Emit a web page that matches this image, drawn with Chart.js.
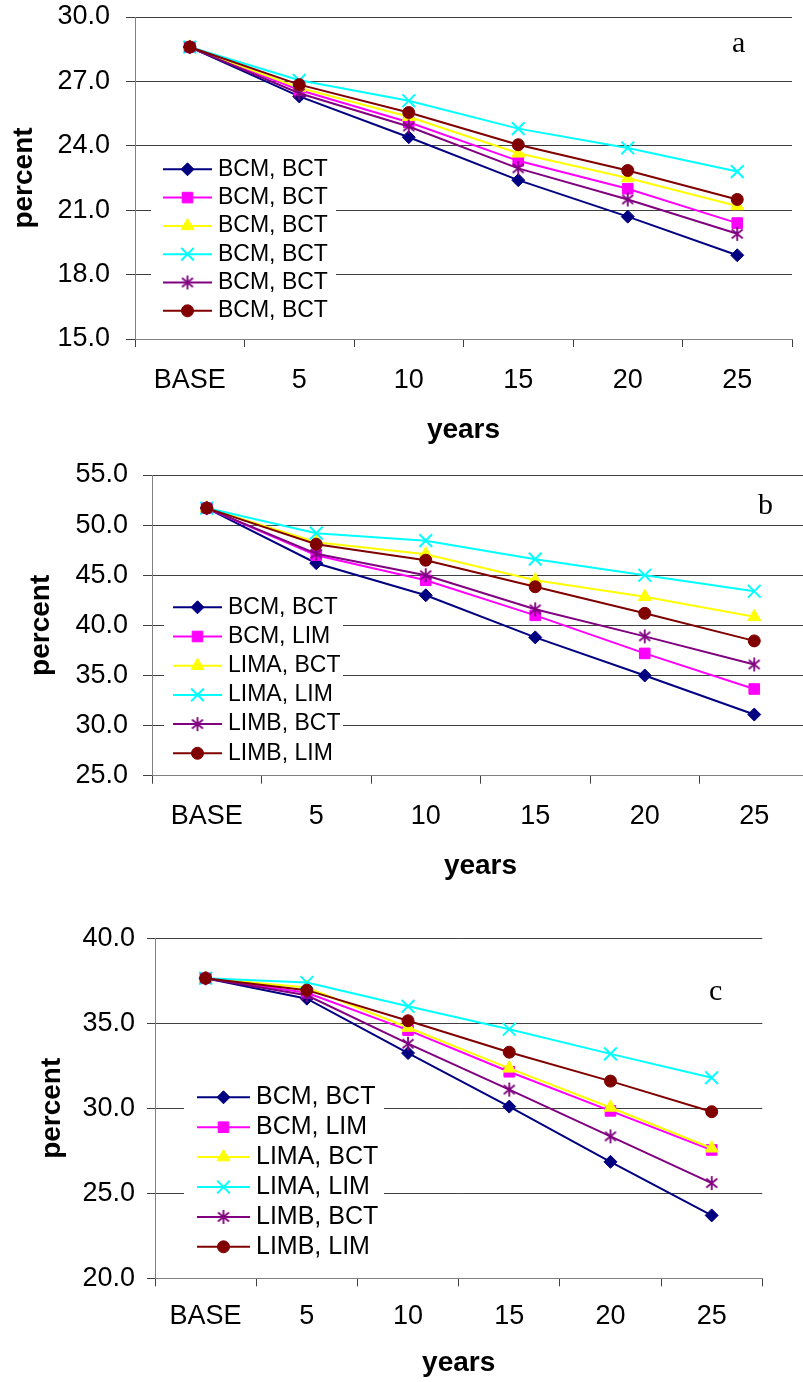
<!DOCTYPE html>
<html><head><meta charset="utf-8">
<script src="https://cdn.jsdelivr.net/npm/chart.js@4.4.1/dist/chart.umd.min.js"></script>
<style>
html,body{margin:0;padding:0;background:#fff;overflow:hidden;}
#wrap{position:relative;width:803px;height:1382px;overflow:hidden;background:#fff;}
canvas{position:absolute;left:0;}
.pl{position:absolute;font-family:"Liberation Serif","Times New Roman",serif;font-size:30px;line-height:30px;color:#000;}
</style></head><body>
<div id="wrap">
<canvas id="ca" width="803" height="450" style="top:0px"></canvas>
<canvas id="cb" width="820" height="450" style="top:450px"></canvas>
<canvas id="cc" width="803" height="482" style="top:900px"></canvas>
<div class="pl" style="left:732px;top:27px">a</div>
<div class="pl" style="left:758px;top:489px">b</div>
<div class="pl" style="left:709px;top:975px">c</div>
</div>
<script>
// ---------- data ----------
const categories = ['BASE', '5', '10', '15', '20', '25'];

const seriesNamesA = ['BCM, BCT', 'BCM, BCT', 'BCM, BCT', 'BCM, BCT', 'BCM, BCT', 'BCM, BCT'];
const seriesNamesBC = ['BCM, BCT', 'BCM, LIM', 'LIMA, BCT', 'LIMA, LIM', 'LIMB, BCT', 'LIMB, LIM'];

// panel a
const a_BCM_BCT   = [28.6, 26.3, 24.4, 22.4, 20.7, 18.9];
const a_BCM_LIM   = [28.6, 26.6, 25.1, 23.3, 22.0, 20.4];
const a_LIMA_BCT  = [28.6, 26.7, 25.35, 23.65, 22.5, 21.2];
const a_LIMA_LIM  = [28.6, 27.05, 26.1, 24.8, 23.9, 22.8];
const a_LIMB_BCT  = [28.6, 26.45, 24.9, 22.95, 21.5, 19.9];
const a_LIMB_LIM  = [28.6, 26.85, 25.55, 24.05, 22.85, 21.5];

// panel b
const b_BCM_BCT   = [51.7, 46.2, 43.0, 38.8, 35.0, 31.1];
const b_BCM_LIM   = [51.7, 47.0, 44.5, 41.0, 37.2, 33.65];
const b_LIMA_BCT  = [51.7, 48.3, 47.1, 44.5, 42.85, 40.85];
const b_LIMA_LIM  = [51.7, 49.2, 48.45, 46.6, 45.0, 43.4];
const b_LIMB_BCT  = [51.7, 47.15, 45.0, 41.6, 38.9, 36.1];
const b_LIMB_LIM  = [51.7, 48.1, 46.5, 43.85, 41.2, 38.45];

// panel c
const c_BCM_BCT   = [37.65, 36.45, 33.25, 30.1, 26.85, 23.7];
const c_BCM_LIM   = [37.65, 36.8, 34.6, 32.15, 29.85, 27.55];
const c_LIMA_BCT  = [37.65, 37.1, 34.75, 32.35, 30.05, 27.65];
const c_LIMA_LIM  = [37.65, 37.4, 36.0, 34.65, 33.2, 31.8];
const c_LIMB_BCT  = [37.65, 36.65, 33.8, 31.1, 28.35, 25.6];
const c_LIMB_LIM  = [37.65, 36.95, 35.15, 33.3, 31.6, 29.8];

const yTicksA = [15, 18, 21, 24, 27, 30];
const yTicksB = [25, 30, 35, 40, 45, 50, 55];
const yTicksC = [20, 25, 30, 35, 40];

// ---------- styles ----------
// Excel-like asterisk marker (X plus vertical bar)
function makeAsterisk(color) {
  const c = document.createElement('canvas');
  c.width = 16; c.height = 16;
  const x = c.getContext('2d');
  x.strokeStyle = color; x.lineWidth = 1.8; x.lineCap = 'butt';
  x.beginPath();
  x.moveTo(8, 1); x.lineTo(8, 15);
  x.moveTo(2.5, 3.5); x.lineTo(13.5, 12.5);
  x.moveTo(13.5, 3.5); x.lineTo(2.5, 12.5);
  x.stroke();
  return c;
}

const seriesStyle = [
  {color: '#000080', pointStyle: 'rectRot',  r: 6.5, pbw: 1},
  {color: '#FF00FF', pointStyle: 'rect',     r: 7.5, pbw: 1},
  {color: '#FFFF00', pointStyle: 'triangle', r: 7.5, pbw: 1},
  {color: '#00FFFF', pointStyle: 'crossRot', r: 9,   pbw: 2},
  {color: '#800080', pointStyle: makeAsterisk('#800080'), r: 7, pbw: 1.8},
  {color: '#800000', pointStyle: 'circle',   r: 6,   pbw: 1}
];
const SANS = '"Liberation Sans", Arial, sans-serif';

function drawMarker(ctx, ds, x, y) {
  ctx.save();
  ctx.fillStyle = ds.pointBackgroundColor;
  ctx.strokeStyle = ds.pointBorderColor;
  ctx.lineWidth = ds.pointBorderWidth;
  const r = ds.pointRadius;
  const st = ds.pointStyle;
  if (typeof st === 'object' && st) {
    ctx.drawImage(st, x - st.width / 2, y - st.height / 2);
  } else if (Chart.helpers && Chart.helpers.drawPoint) {
    Chart.helpers.drawPoint(ctx, {pointStyle: st, radius: r, borderWidth: ds.pointBorderWidth, rotation: 0}, x, y);
  } else {
    ctx.beginPath();
    switch (st) {
      case 'rectRot': ctx.moveTo(x - r, y); ctx.lineTo(x, y - r); ctx.lineTo(x + r, y); ctx.lineTo(x, y + r); ctx.closePath(); ctx.fill(); ctx.stroke(); break;
      case 'rect': { const s = r * Math.SQRT1_2; ctx.rect(x - s, y - s, 2 * s, 2 * s); ctx.fill(); ctx.stroke(); break; }
      case 'triangle': for (let k = 0; k < 3; k++) { const a = k * 2 * Math.PI / 3; const px = x + Math.sin(a) * r, py = y - Math.cos(a) * r; k ? ctx.lineTo(px, py) : ctx.moveTo(px, py); } ctx.closePath(); ctx.fill(); ctx.stroke(); break;
      case 'circle': ctx.arc(x, y, r, 0, Math.PI * 2); ctx.fill(); ctx.stroke(); break;
      case 'crossRot': { const o = r * Math.SQRT1_2; ctx.moveTo(x - o, y - o); ctx.lineTo(x + o, y + o); ctx.moveTo(x + o, y - o); ctx.lineTo(x - o, y + o); ctx.stroke(); break; }
    }
  }
  ctx.restore();
}

const boxLegend = {
  id: 'boxLegend',
  afterDraw(chart, args, o) {
    const ctx = chart.ctx;
    ctx.save();
    ctx.fillStyle = '#fff';
    ctx.fillRect(o.bx, o.by, o.bw, o.bh);
    chart.data.datasets.forEach((ds, i) => {
      const y = o.rowY + i * o.rowStep;
      ctx.strokeStyle = ds.borderColor;
      ctx.lineWidth = ds.borderWidth;
      ctx.beginPath();
      ctx.moveTo(o.x1, y); ctx.lineTo(o.x2, y);
      ctx.stroke();
      drawMarker(ctx, ds, (o.x1 + o.x2) / 2, y);
      ctx.fillStyle = '#000';
      ctx.font = o.fontSize + 'px ' + SANS;
      ctx.textAlign = 'left';
      ctx.textBaseline = 'middle';
      ctx.fillText(ds.label, o.textX, y);
    });
    ctx.restore();
  }
};

function makeChart(id, names, series, yTicks, g) {
  const datasets = series.map((vals, i) => {
    const s = seriesStyle[i];
    return {
      label: names[i],
      data: vals,
      borderColor: s.color,
      backgroundColor: s.color,
      borderWidth: 2,
      pointStyle: s.pointStyle,
      pointRadius: s.r,
      pointBackgroundColor: s.color,
      pointBorderColor: s.color,
      pointBorderWidth: s.pbw,
      tension: 0,
      fill: false,
      order: series.length - i
    };
  });
  return new Chart(document.getElementById(id), {
    type: 'line',
    data: {labels: categories, datasets},
    plugins: [boxLegend],
    options: {
      responsive: false,
      animation: false,
      events: [],
      devicePixelRatio: 1,
      layout: {padding: {left: 0, top: g.top, right: g.right, bottom: 0}},
      plugins: {
        legend: {display: false},
        tooltip: {enabled: false},
        boxLegend: g.legend
      },
      scales: {
        x: {
          type: 'category',
          offset: true,
          afterFit: (sc) => { sc.height = g.xHeight; sc.paddingLeft = 0; sc.paddingRight = 0; },
          grid: {display: true, drawOnChartArea: false, drawTicks: true, tickLength: 8, color: '#404040', lineWidth: 1, offset: true},
          border: {display: true, color: '#808080', width: 1},
          ticks: {color: '#000', font: {family: SANS, size: g.xFont}, padding: g.xTickPad, autoSkip: false, maxRotation: 0},
          title: {display: true, text: 'years', color: '#000', font: {family: SANS, size: 28, weight: 'bold'}, padding: {top: 0, bottom: g.xTitlePad}}
        },
        y: {
          min: yTicks[0],
          max: yTicks[yTicks.length - 1],
          afterBuildTicks: (sc) => { sc.ticks = yTicks.map(v => ({value: v})); },
          afterFit: (sc) => { sc.width = g.yWidth; sc.paddingTop = 0; sc.paddingBottom = 0; },
          grid: {display: true, drawOnChartArea: true, drawTicks: true, tickLength: g.yTickLen, color: '#404040', lineWidth: 1},
          border: {display: true, color: '#808080', width: 1},
          ticks: {color: '#000', font: {family: SANS, size: 27}, padding: g.yTickPad, callback: (v) => Number(v).toFixed(1)},
          title: {display: true, text: 'percent', color: '#000', font: {family: SANS, size: 28, weight: 'bold'}, padding: {top: g.yTitlePad, bottom: 0}}
        }
      }
    }
  });
}

makeChart('ca', seriesNamesA,
  [a_BCM_BCT, a_BCM_LIM, a_LIMA_BCT, a_LIMA_LIM, a_LIMB_BCT, a_LIMB_LIM], yTicksA,
  {top: 17, right: 11, xHeight: 111, yWidth: 135, yTickLen: 9, yTickPad: 16, xTickPad: 17, xFont: 27, xTitlePad: 3, yTitlePad: 7,
   legend: {bx: 151, by: 150, bw: 185, bh: 180, rowY: 169.3, rowStep: 28.3, x1: 163, x2: 212, textX: 218, fontSize: 23}});

makeChart('cb', seriesNamesBC,
  [b_BCM_BCT, b_BCM_LIM, b_LIMA_BCT, b_LIMA_LIM, b_LIMB_BCT, b_LIMB_LIM], yTicksB,
  {top: 25, right: 11, xHeight: 124.3, yWidth: 152, yTickLen: 9, yTickPad: 15, xTickPad: 17, xFont: 27, xTitlePad: 16.5, yTitlePad: 24,
   legend: {bx: 164, by: 129, bw: 179, bh: 192, rowY: 157.3, rowStep: 29.2, x1: 173, x2: 222, textX: 228, fontSize: 23}});

makeChart('cc', seriesNamesBC,
  [c_BCM_BCT, c_BCM_LIM, c_LIMA_BCT, c_LIMA_LIM, c_LIMB_BCT, c_LIMB_LIM], yTicksC,
  {top: 38.3, right: 40.7, xHeight: 103.7, yWidth: 155, yTickLen: 8, yTickPad: 12, xTickPad: 14, xFont: 27, xTitlePad: 2, yTitlePad: 35,
   legend: {bx: 184, by: 172, bw: 200, bh: 198, rowY: 197.3, rowStep: 29.9, x1: 197, x2: 250, textX: 256, fontSize: 25}});
</script>
</body></html>
